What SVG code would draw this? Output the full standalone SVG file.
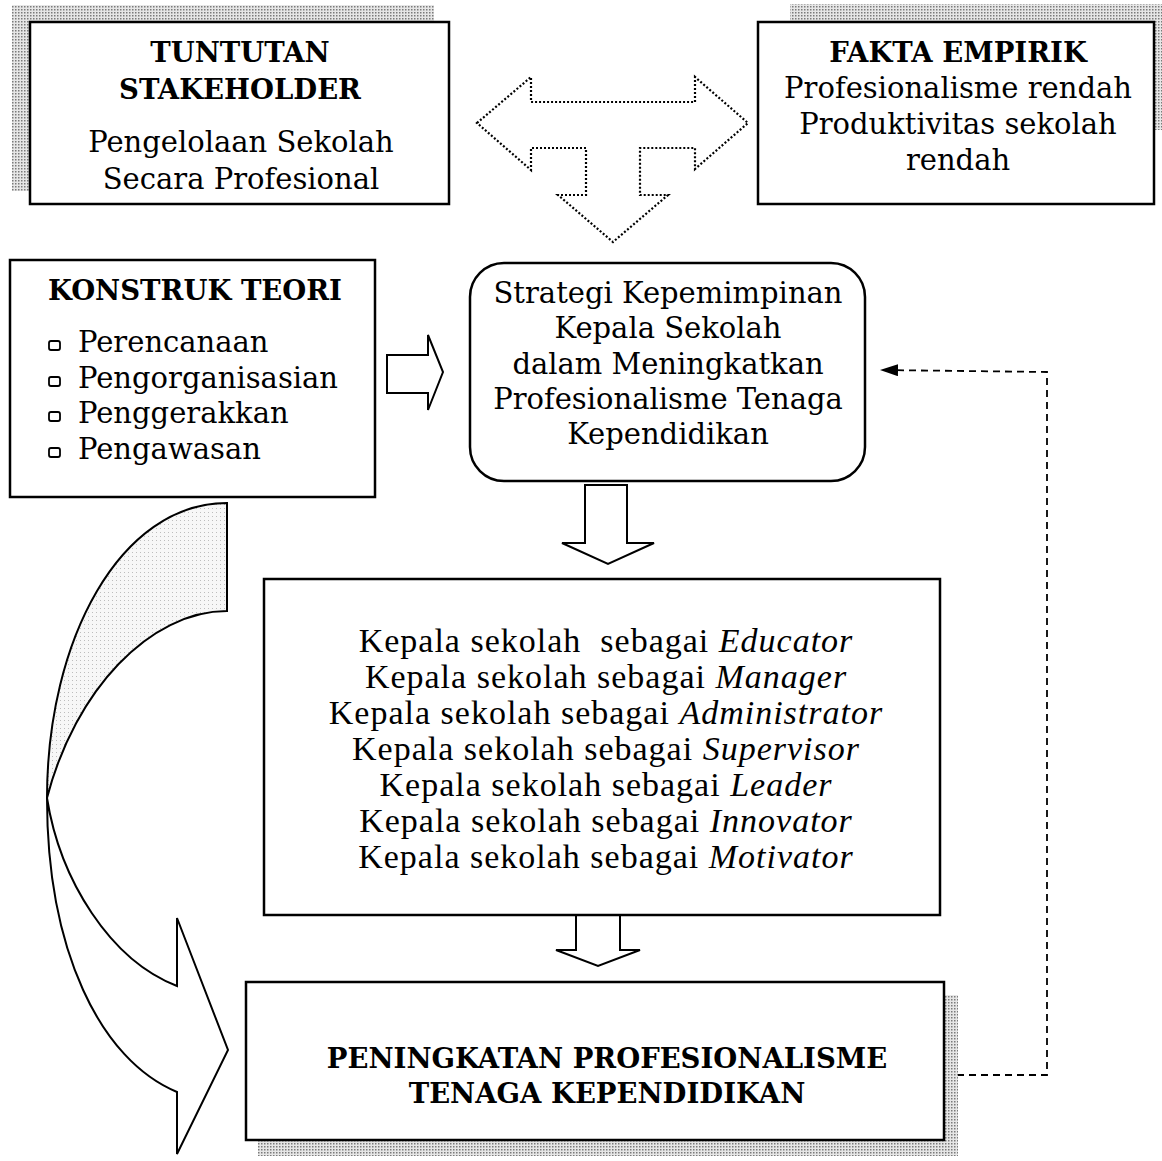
<svg xmlns="http://www.w3.org/2000/svg" width="1162" height="1161" viewBox="0 0 1162 1161">
<style>
.box{fill:#fff;stroke:#000;stroke-width:2.5}
.shadow{fill:url(#stip)}
.t{font-family:"DejaVu Serif","Liberation Serif",serif;font-size:29px;fill:#000;text-anchor:middle}
.b{font-weight:bold;font-size:27.5px}
.l{text-anchor:start}
.m{font-family:"Liberation Serif","DejaVu Serif",serif;font-size:34px;letter-spacing:1px;fill:#000;text-anchor:middle;white-space:pre}
.blk{fill:#fff;stroke:#000;stroke-width:2}
.dot{fill:#fff;stroke:#000;stroke-width:2.2;stroke-dasharray:2 2}
.dash{fill:none;stroke:#000;stroke-width:1.8;stroke-dasharray:7 5}
.bul{fill:none;stroke:#000;stroke-width:1.8}
</style>
<defs>
<pattern id="stip" width="3" height="3" patternUnits="userSpaceOnUse">
<rect width="3" height="3" fill="#e6e6e6"/>
<rect width="1.5" height="1.5" fill="#7a7a7a"/>
</pattern>
<pattern id="stipL" width="4" height="4" patternUnits="userSpaceOnUse">
<rect width="4" height="4" fill="#f7f7f7"/>
<rect width="1" height="1" fill="#bdbdbd"/>
</pattern>
<marker id="ah" viewBox="0 0 18 12" refX="17" refY="6" markerWidth="18" markerHeight="12" markerUnits="userSpaceOnUse" orient="auto">
<path d="M0,0 L18,6 L0,12 Z" fill="#000"/>
</marker>
</defs>
<rect width="1162" height="1161" fill="#fff"/>

<g id="connectors">
<path id="t-arrow" class="dot" d="M477,123 L531,77 L531,102 L695,102 L695,77 L748,123 L695,169 L695,148 L640,148 L640,195 L668,195 L613,242 L558,195 L586,195 L586,148 L531,148 L531,170 Z"/>
<path id="arrow-right" class="blk" d="M387,355 L428,355 L428,335 L443,372 L428,410 L428,393 L387,393 Z"/>
<path id="arrow-down1" class="blk" d="M585,485 L627,485 L627,543 L654,543 L608,564 L562,543 L585,543 Z"/>
<path id="arrow-down2" class="blk" d="M576,915 L620,915 L620,950 L640,950 L598,966 L556,950 L576,950 Z"/>
<g id="curved-arrow">
<path d="M227,503 L227,611 C150,611 75,690 47,798 C47,640 120,503 227,503 Z" fill="url(#stipL)" stroke="#000" stroke-width="2"/>
<path d="M47,798 C60,880 110,960 177,986 L177,918 L228,1050 L177,1154 L177,1092 C100,1060 47,950 47,798 Z" fill="#fff" stroke="#000" stroke-width="2"/>
</g>
<path id="feedback" class="dash" d="M945,1075 L1047,1075 L1047,372 L881,370" marker-end="url(#ah)"/>
</g>

<g id="node-tuntutan">
<rect class="shadow" x="12" y="5" width="422" height="186"/>
<rect class="box" x="30" y="22" width="419" height="182"/>
<text class="t b" x="240" y="62">TUNTUTAN</text>
<text class="t b" x="240" y="99">STAKEHOLDER</text>
<text class="t" x="241" y="152">Pengelolaan Sekolah</text>
<text class="t" x="241" y="189">Secara Profesional</text>
</g>

<g id="node-fakta">
<rect class="shadow" x="790" y="4" width="372" height="126"/>
<rect class="box" x="758" y="22" width="396" height="182"/>
<text class="t b" x="958" y="62">FAKTA EMPIRIK</text>
<text class="t" x="958" y="98">Profesionalisme rendah</text>
<text class="t" x="958" y="134">Produktivitas sekolah</text>
<text class="t" x="958" y="170">rendah</text>
</g>

<g id="node-konstruk">
<rect class="box" x="10" y="260" width="365" height="237"/>
<text class="t b" x="195" y="300">KONSTRUK TEORI</text>
<rect class="bul" x="49" y="341" width="11" height="9" rx="2"/>
<text class="t l" x="78" y="352">Perencanaan</text>
<rect class="bul" x="49" y="377" width="11" height="9" rx="2"/>
<text class="t l" x="78" y="388">Pengorganisasian</text>
<rect class="bul" x="49" y="412" width="11" height="9" rx="2"/>
<text class="t l" x="78" y="423">Penggerakkan</text>
<rect class="bul" x="49" y="448" width="11" height="9" rx="2"/>
<text class="t l" x="78" y="459">Pengawasan</text>
</g>

<g id="node-strategi">
<rect class="box" x="470" y="263" width="395" height="218" rx="34" ry="34"/>
<text class="t" x="668" y="303">Strategi Kepemimpinan</text>
<text class="t" x="668" y="338">Kepala Sekolah</text>
<text class="t" x="668" y="374">dalam Meningkatkan</text>
<text class="t" x="668" y="409">Profesionalisme Tenaga</text>
<text class="t" x="668" y="444">Kependidikan</text>
</g>

<g id="node-peran">
<rect class="box" x="264" y="579" width="676" height="336"/>
<text class="m" x="606" y="652">Kepala sekolah  sebagai <tspan font-style="italic">Educator</tspan></text>
<text class="m" x="606" y="688">Kepala sekolah sebagai <tspan font-style="italic">Manager</tspan></text>
<text class="m" x="606" y="724">Kepala sekolah sebagai <tspan font-style="italic">Administrator</tspan></text>
<text class="m" x="606" y="760">Kepala sekolah sebagai <tspan font-style="italic">Supervisor</tspan></text>
<text class="m" x="606" y="796">Kepala sekolah sebagai <tspan font-style="italic">Leader</tspan></text>
<text class="m" x="606" y="832">Kepala sekolah sebagai <tspan font-style="italic">Innovator</tspan></text>
<text class="m" x="606" y="868">Kepala sekolah sebagai <tspan font-style="italic">Motivator</tspan></text>
</g>

<g id="node-peningkatan">
<rect class="shadow" x="258" y="995" width="700" height="161"/>
<rect class="box" x="246" y="982" width="698" height="158"/>
<text class="t b" x="607" y="1068">PENINGKATAN PROFESIONALISME</text>
<text class="t b" x="607" y="1103">TENAGA KEPENDIDIKAN</text>
</g>
</svg>
